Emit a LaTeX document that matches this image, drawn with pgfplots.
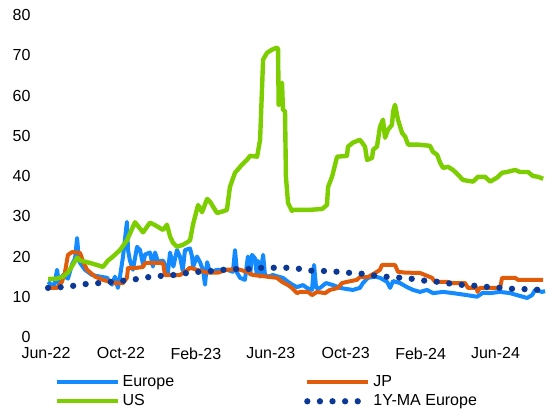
\documentclass[border=0pt]{standalone}
\usepackage{fontspec}
\setmainfont{Liberation Sans}
\usepackage{pgfplots}
\pgfplotsset{compat=1.18}
\definecolor{eur}{RGB}{20,138,255}
\definecolor{jp}{RGB}{224,92,10}
\definecolor{us}{RGB}{124,206,0}
\definecolor{ma}{RGB}{12,56,150}
\begin{document}
\fontsize{16}{19}\selectfont
\begin{tikzpicture}
\begin{axis}[
  at={(46pt,72pt)}, anchor=south west,
  scale only axis, width=499pt, height=322pt,
  xmin=0, xmax=26.64, ymin=0, ymax=80,
  xtick={0,4,...,24},
  xticklabels={Jun-22,Oct-22,Feb-23,Jun-23,Oct-23,Feb-24,Jun-24},
  ytick={0,10,...,80},
  axis line style={draw=none}, major tick length=0pt,
  tick label style={font=\fontsize{16}{19}\selectfont},
  xticklabel style={yshift=-5pt},
  yticklabel style={xshift=-10pt},
  /pgf/number format/assume math mode=true,
  clip=false,
  legend columns=2,
  legend cell align=left,
  legend image code/.code={\draw[#1] (0pt,0pt) -- (61pt,0pt);},
  legend style={at={(axis description cs:0.018,-0.113)}, anchor=north west,
    draw=none, fill=none, inner sep=0pt, row sep=1.5pt,
    nodes={inner sep=2pt}, font=\fontsize{16}{19}\selectfont,
    /tikz/every even column/.append style={column sep=128pt}},
]
% Europe
\addplot[eur, line width=4pt, line join=round] coordinates {
(0.11,13.7) (0.43,12.5) (0.59,16.7) (0.70,13.0) (0.91,15.4) (1.17,14.5) (1.39,18.0)
(1.55,19.5) (1.66,24.6) (1.76,19.0) (1.82,18.4) (2.08,16.7) (2.46,15.4) (2.88,15.0)
(3.26,14.7) (3.52,13.0) (3.68,15.0) (3.84,12.2) (3.95,15.0) (4.11,19.9) (4.32,28.6)
(4.38,21.6) (4.48,19.0) (4.64,16.7) (4.86,22.4) (5.02,21.6) (5.18,18.0) (5.29,20.5)
(5.55,21.0) (5.71,17.5) (5.82,21.0) (5.98,18.7) (6.25,19.0) (6.46,16.7) (6.51,16.0)
(6.62,21.0) (6.80,17.5) (6.99,21.6) (7.15,20.0) (7.30,16.5) (7.42,21.6) (7.69,22.0)
(7.80,19.9) (7.85,17.4) (8.06,20.0) (8.22,18.6) (8.38,16.7) (8.49,13.0) (8.60,18.6)
(8.76,16.0) (9.13,16.7) (9.66,16.7) (9.98,16.2) (10.09,21.6) (10.20,16.0) (10.36,14.7)
(10.62,14.2) (10.78,20.0) (10.90,15.5) (11.00,20.4) (11.16,19.5) (11.25,15.5) (11.32,18.9)
(11.43,15.0) (11.59,20.4) (11.69,15.4) (11.85,15.0) (12.12,15.4) (12.39,15.0) (12.65,14.7)
(12.92,13.7) (13.19,12.9) (13.40,12.4) (13.72,12.9) (13.93,12.2) (14.20,11.7) (14.31,17.9)
(14.42,12.2) (14.63,12.2) (14.95,13.4) (15.32,12.9) (15.70,12.2) (16.07,11.9) (16.39,11.7)
(16.76,12.2) (16.92,13.4) (17.19,14.7) (17.57,15.0) (17.83,14.7) (18.21,13.7) (18.37,12.2)
(18.53,13.9) (18.90,13.4) (19.27,12.4) (19.59,11.7) (19.97,11.2) (20.34,11.7) (20.66,10.9)
(21.20,11.2) (21.73,10.9) (22.48,10.4) (23.01,10.0) (23.33,11.0) (23.71,10.9) (24.24,11.2)
(24.77,10.9) (25.15,10.4) (25.68,9.7) (25.95,10.4) (26.11,11.7) (26.48,11.2) (26.64,11.4)
};
\addlegendentry{Europe}
% JP
\addplot[jp, line width=4pt, line join=round] coordinates {
(0.11,12.2) (0.59,12.2) (0.85,13.7) (1.01,16.0) (1.17,20.4) (1.39,21.1) (1.82,20.9)
(1.98,18.7) (2.19,16.7) (2.62,15.0) (3.04,14.2) (3.42,13.7) (3.68,13.4) (4.11,13.4)
(4.32,14.7) (4.38,17.2) (4.86,17.2) (5.18,17.4) (5.29,18.4) (6.25,18.4) (6.35,15.4)
(6.78,15.4) (7.15,15.4) (7.42,16.2) (7.69,17.2) (8.06,16.7) (8.60,16.0) (9.18,16.0)
(9.66,16.7) (10.20,16.9) (10.73,16.2) (11.05,15.4) (11.43,15.2) (11.96,14.9) (12.33,14.7)
(12.60,13.7) (12.92,12.9) (13.13,12.2) (13.40,10.9) (13.56,11.2) (13.99,11.2) (14.20,10.4)
(14.47,11.2) (14.90,10.9) (15.16,11.7) (15.59,12.2) (15.80,13.4) (16.07,13.7) (16.60,14.2)
(16.76,14.9) (17.19,14.9) (17.67,16.2) (17.83,16.7) (17.94,17.9) (18.63,17.9) (18.79,16.2)
(19.17,16.0) (19.97,15.9) (20.61,14.7) (20.77,13.7) (21.41,13.7) (21.68,13.4) (22.37,13.4)
(22.53,12.2) (23.01,12.2) (23.03,11.2) (23.17,12.2) (24.24,12.2) (24.35,14.7) (25.04,14.7)
(25.20,14.2) (26.54,14.2)
};
\addlegendentry{JP}
% US
\addplot[us, line width=4.4pt, line join=round] coordinates {
(0.11,14.4) (0.59,14.5) (0.91,15.0) (1.17,16.0) (1.44,18.0) (1.66,19.7) (1.82,19.0)
(2.19,18.6) (2.72,17.9) (3.04,17.4) (3.31,19.0) (3.58,20.0) (3.95,21.6) (4.32,24.0)
(4.75,28.5) (5.18,26.0) (5.55,28.4) (5.82,27.8) (6.25,26.6) (6.46,27.9) (6.62,25.0)
(6.78,23.4) (6.99,22.4) (7.31,22.9) (7.53,23.5) (7.69,24.0) (7.85,28.0) (8.12,32.8)
(8.33,31.0) (8.60,34.3) (8.76,33.6) (9.13,30.8) (9.50,31.3) (9.66,31.6) (9.82,37.3)
(10.09,40.8) (10.46,42.8) (10.73,44.0) (10.89,45.0) (11.27,44.8) (11.43,49.0) (11.59,68.9)
(11.80,70.6) (12.07,71.4) (12.33,71.9) (12.39,71.5) (12.42,57.7) (12.60,63.2) (12.65,56.5)
(12.76,56.0) (12.81,39.8) (12.92,33.3) (13.13,31.3) (13.19,31.6) (14.10,31.6) (14.74,31.8)
(15.00,32.8) (15.06,37.3) (15.27,39.8) (15.54,44.8) (16.07,45.0) (16.12,47.3) (16.39,48.3)
(16.76,49.0) (17.03,47.3) (17.14,44.0) (17.41,44.5) (17.46,46.5) (17.67,47.3) (17.83,52.2)
(17.99,54.0) (18.10,49.5) (18.26,51.5) (18.47,52.7) (18.53,56.0) (18.63,57.7) (18.79,54.0)
(19.01,50.7) (19.17,49.8) (19.33,47.8) (19.86,47.8) (20.50,47.5) (20.66,46.0) (20.88,45.3)
(21.04,43.3) (21.20,42.0) (21.46,42.3) (21.73,41.5) (22.00,40.3) (22.26,39.0) (22.80,38.6)
(23.06,39.8) (23.44,39.8) (23.71,38.6) (24.08,39.6) (24.35,40.8) (24.61,41.0) (25.04,41.5)
(25.31,41.0) (25.73,41.0) (26.00,40.0) (26.27,39.8) (26.54,39.3)
};
\addlegendentry{US}
% 1Y moving average, Europe
\addplot[ma, line width=6.3pt, line cap=round, dash pattern=on 0pt off 12.6pt] coordinates {
(0.11,12.2) (0.85,12.4) (1.44,12.7) (2.19,13.2) (2.83,13.4) (3.52,13.7) (4.16,14.0)
(4.86,14.4) (5.50,14.9) (6.19,15.2) (6.83,15.4) (7.53,15.9) (8.17,16.2) (8.86,16.4)
(9.50,16.7) (10.20,16.9) (10.89,16.9) (11.53,17.2) (12.23,17.2) (12.92,17.2) (13.61,16.9)
(14.26,16.4) (14.95,16.4) (15.59,16.2) (16.28,15.9) (16.92,15.7) (17.62,15.2) (18.31,14.9)
(19.01,14.7) (19.65,14.4) (20.34,13.9) (20.98,13.7) (21.68,13.2) (22.32,12.9) (23.01,12.7)
(23.65,12.4) (24.35,12.2) (25.04,11.9) (25.68,11.9) (26.37,11.7)
};
\addlegendentry{1Y-MA Europe}
\end{axis}
\pgfresetboundingbox
\path[use as bounding box] (0,0) rectangle (554pt,409pt);
\end{tikzpicture}
\end{document}
